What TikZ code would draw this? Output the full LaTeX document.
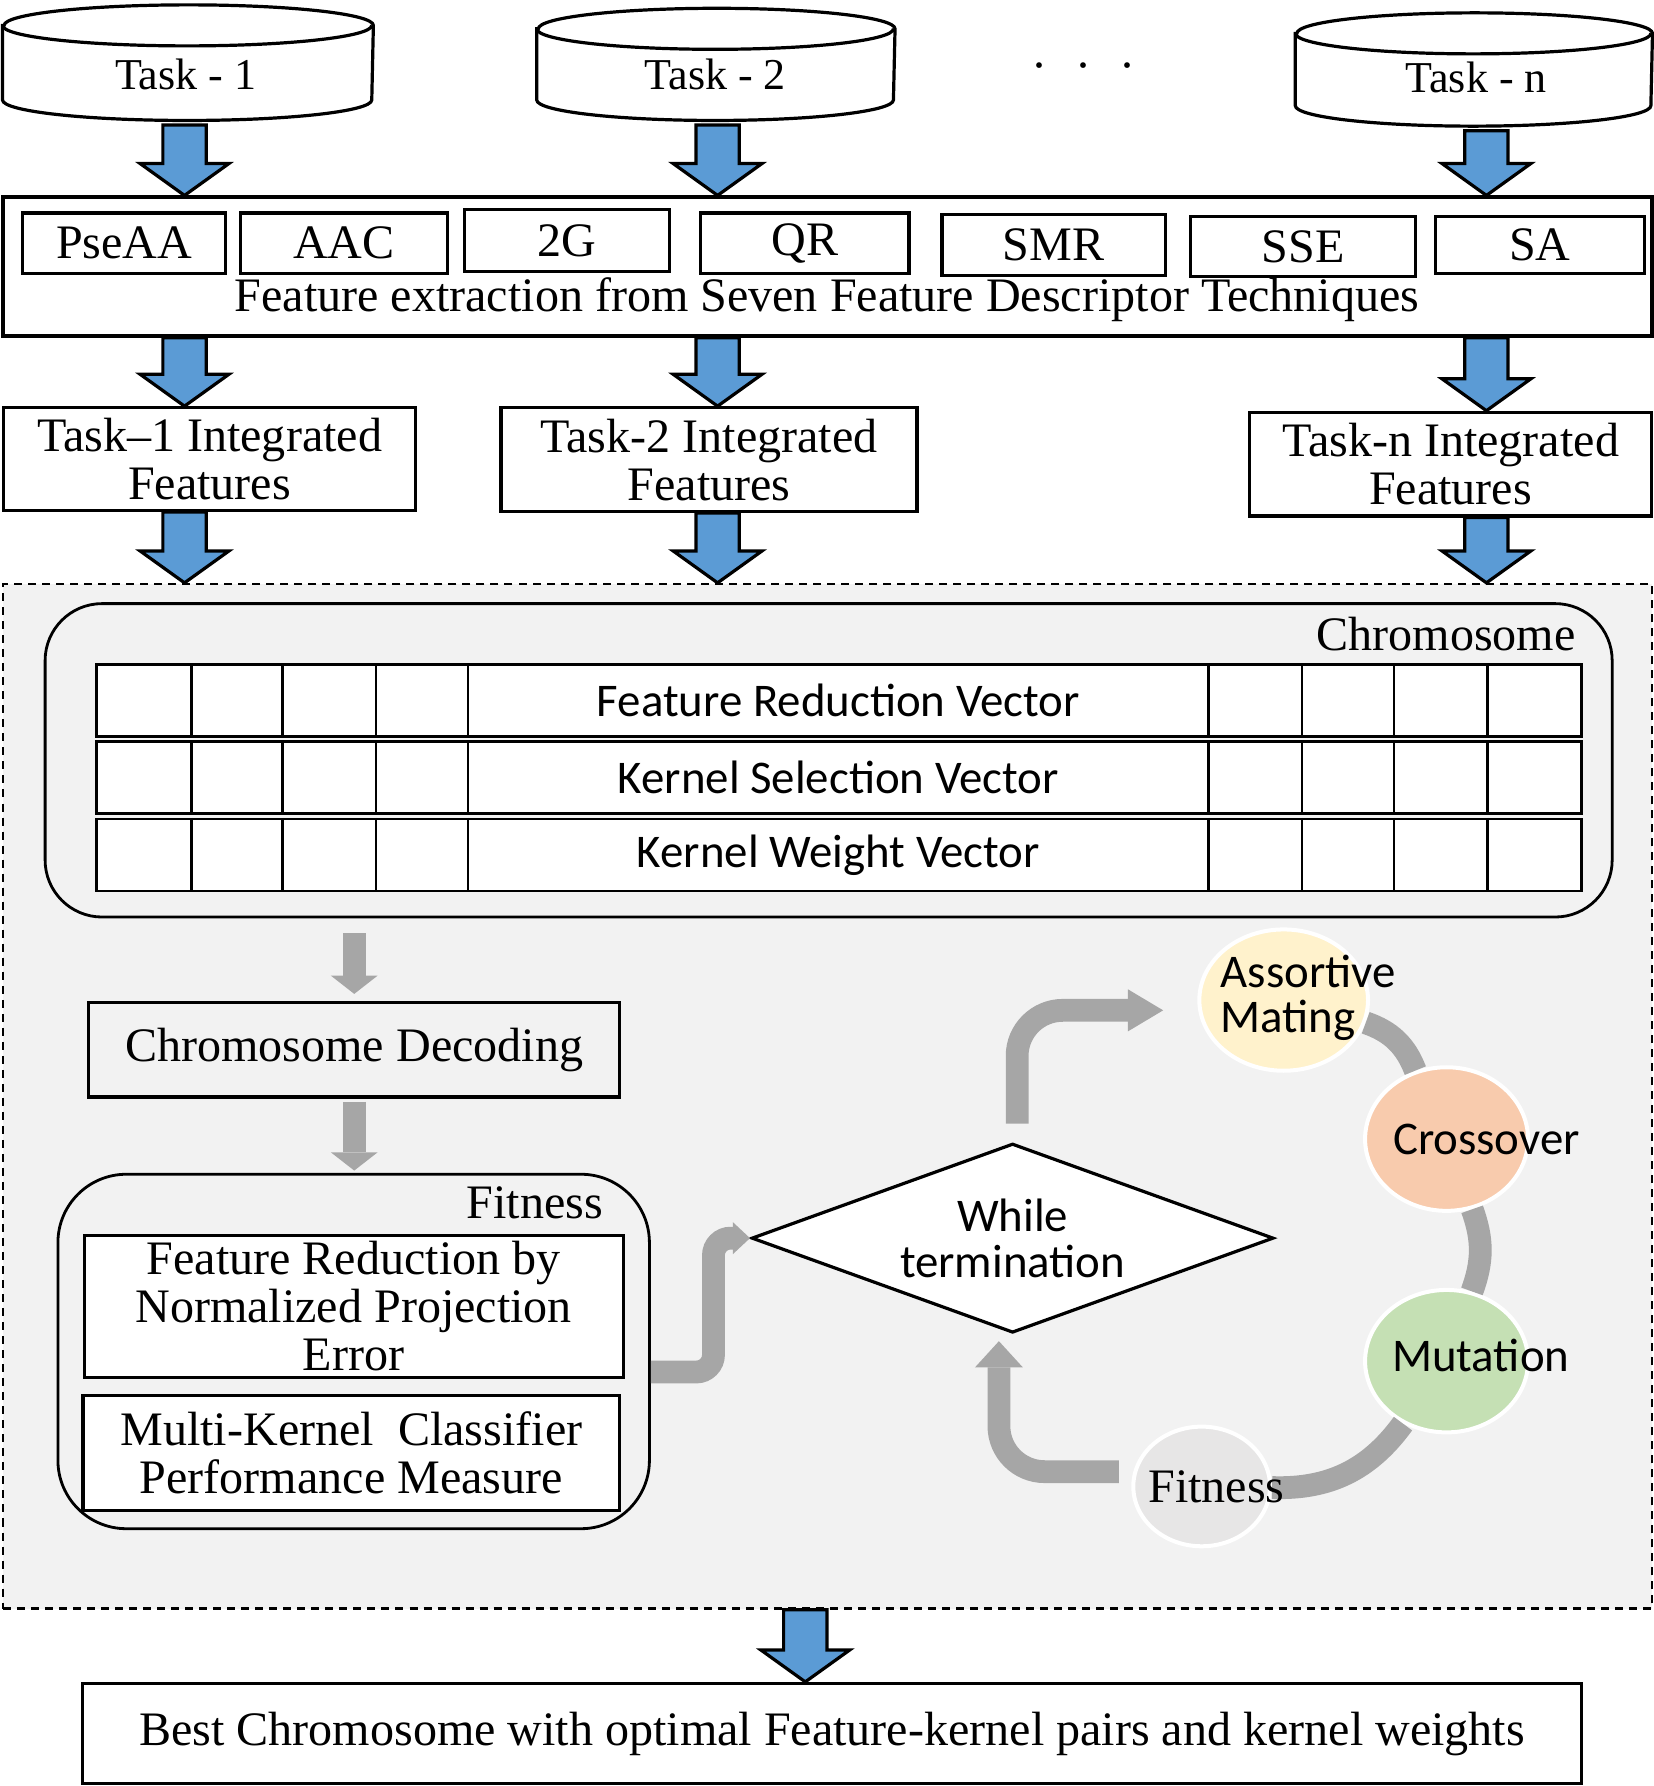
\documentclass[tikz,border=0pt]{standalone}
\usepackage{fontspec}
\setmainfont{Liberation Serif}
\newfontfamily\calibri{Carlito}
\usetikzlibrary{shapes.geometric,arrows.meta,calc}

\definecolor{arrowblue}{HTML}{5B9BD5}
\definecolor{flowgray}{HTML}{A6A6A6}
\definecolor{panelgray}{HTML}{F2F2F2}
\definecolor{mateyellow}{HTML}{FFF2CC}
\definecolor{crossorange}{HTML}{F8CBAD}
\definecolor{mutgreen}{HTML}{C5E0B4}
\definecolor{fitgray}{HTML}{E7E6E6}

% data drum round a named node: #1 node, #2 half width
\newcommand{\drum}[2]{%
  \draw[line width=0.8pt, fill=white] ($(#1.north west)+(0,18)$) -- ($(#1.south west)+(0,-18)$)
    arc[start angle=180, end angle=360, x radius=#2, y radius=0.18cm]
    -- ($(#1.north east)+(0,18)$)
    arc[start angle=0, end angle=180, x radius=#2, y radius=0.18cm] -- cycle;
  \draw[line width=0.8pt] ($(#1.north west)+(0,18)$)
    arc[start angle=180, end angle=360, x radius=#2, y radius=0.18cm];
}

\tikzset{
  txt/.style={inner sep=0pt, align=center, font=\fontsize{12}{12}\selectfont},
  sans/.style={inner sep=0pt, align=center, font=\calibri\fontsize{11.7}{11.4}\selectfont},
  box/.style={txt, draw, line width=0.8pt, fill=white},
  roundbox/.style={draw, line width=0.7pt, fill=panelgray},
  drumbox/.style={inner sep=0pt, minimum height=1cm},
  cellrow/.style={draw, line width=0.6pt, fill=white, minimum width=13.03cm, minimum height=0.63cm},
  gridline/.style={line width=0.6pt},
  decision/.style={sans, diamond, aspect=2.76, draw, fill=white, line width=0.8pt, minimum width=4.58cm, minimum height=1.66cm},
  stage/.style={ellipse, draw=white, line width=1pt, inner sep=0pt},
  cycleband/.style={draw=flowgray, line width=0.2cm},
  flowarrow/.style={draw=flowgray, line width=0.2cm, -{Triangle[width=0.41cm, length=0.16cm, line width=0pt]}},
  smallhead/.style={-{Triangle[width=0.28cm, length=0.15cm, line width=0pt]}},
  bluearrow/.style={draw, line width=0.8pt, fill=arrowblue,
    to path={let \p1=(\tikztostart), \p2=(\tikztotarget) in
      (\x1-0.19cm,\y1) -- (\x1+0.19cm,\y1) -- (\x1+0.19cm,\y2+0.28cm) -- (\x1+0.39cm,\y2+0.28cm)
      -- (\x1,\y2) -- (\x1-0.39cm,\y2+0.28cm) -- (\x1-0.19cm,\y2+0.28cm) -- cycle}}
}

\begin{document}
\begin{tikzpicture}[x=0.01cm, y=-0.01cm]
\useasboundingbox (0,0) rectangle (1452,1568);

\coordinate (col1) at (162,0);
\coordinate (col2) at (630,0);
\coordinate (coln) at (1305,0);
\coordinate (colb) at (707,0);

% task data sets
\node[drumbox, minimum width=3.24cm] (task1) at (165,55) {};
\node[drumbox, minimum width=3.13cm, minimum height=0.97cm] (task2) at (628.5,56.5) {};
\node[drumbox, minimum width=3.12cm, minimum height=0.98cm] (taskn) at (1294,61) {};
\drum{task1}{1.62cm}
\drum{task2}{1.565cm}
\drum{taskn}{1.56cm}
\node[txt, font=\fontsize{11}{11}\selectfont] (task1-t) at (163,65) {Task - 1};
\node[txt, font=\fontsize{11}{11}\selectfont] (task2-t) at (628,65) {Task - 2};
\node[txt, font=\fontsize{11}{11}\selectfont] (taskn-t) at (1296,68) {Task - n};
\node[txt] (dots) at (951,63) {·\hspace{7pt}·\hspace{7pt}·};

% feature descriptors
\node[box, minimum width=14.47cm, minimum height=1.22cm] (feat) at (726.5,234) {};
\foreach \x/\y/\w/\h/\name/\lab in {109/213.5/1.78cm/0.53cm/pse/PseAA, 302/213.5/1.82cm/0.53cm/aac/AAC,
    498/211/1.8cm/0.54cm/tg/2G, 706.5/213.5/1.83cm/0.53cm/qr/QR, 925/215/1.96cm/0.54cm/smr/SMR,
    1144/216.5/1.98cm/0.53cm/sse/SSE, 1352/215/1.84cm/0.5cm/sa/SA}
  \node[box, minimum width=\w, minimum height=\h] (\name) at (\x,\y) {\lab};
\node[txt] (feattxt) at (726,263) {Feature extraction from Seven Feature Descriptor Techniques};

% integrated features
\node[box, minimum width=3.62cm, minimum height=0.9cm] (int1) at (184,403) {Task–1\ Integrated\\Features};
\node[box, minimum width=3.65cm, minimum height=0.91cm] (int2) at (622.5,403.5) {Task-2\ Integrated\\Features};
\node[box, minimum width=3.53cm, minimum height=0.91cm] (intn) at (1273.5,407.5) {Task-n Integrated\\Features};

% genetic search
\node[draw, dash pattern=on 2pt off 1.5pt, line width=0.6pt, fill=panelgray,
  minimum width=14.47cm, minimum height=8.99cm] (panel) at (726.5,962.5) {};

\node[roundbox, rounded corners=0.5cm, minimum width=13.75cm, minimum height=2.75cm] (chrom) at (727.5,667.5) {};
\node[txt, anchor=east] (chromlbl) at (1384,557) {Chromosome};
\foreach \name/\yc/\lab in {frv/615/Feature Reduction Vector, ksv/682.5/Kernel Selection Vector,
    kwv/750.5/Kernel Weight Vector} {
  \node[cellrow] (\name) at (736.5,\yc) {};
  \foreach \x in {168,248,330,411,1061,1143,1224,1306}
    \draw[gridline] (\x,0 |- \name.north) -- (\x,0 |- \name.south);
  \node[sans] (\name-t) at (736,\yc) {\lab};
}

\node[box, fill=panelgray, minimum width=4.66cm, minimum height=0.83cm] (dec) at (311,921.5) {Chromosome Decoding};

\node[roundbox, rounded corners=0.6cm, minimum width=5.19cm, minimum height=3.11cm] (fitbox) at (310.5,1186.5) {};
\node[txt, anchor=east] (fitlbl) at (530,1056) {Fitness};
\node[box, minimum width=4.73cm, minimum height=1.24cm] (fb1) at (310.5,1147) {Feature Reduction by\\Normalized Projection\\Error};
\node[box, minimum width=4.71cm, minimum height=1.01cm] (fb2) at (308.5,1275.5) {Multi-Kernel\ \ Classifier\\Performance Measure};

\node[decision] (wt) at (889,1087) {While\\termination};

\node[stage, fill=mateyellow, minimum width=1.48cm, minimum height=1.24cm] (am) at (1127,878) {};
\node[stage, fill=crossorange, minimum width=1.43cm, minimum height=1.26cm] (co) at (1270,1000) {};
\node[stage, fill=mutgreen, minimum width=1.43cm, minimum height=1.25cm] (mu) at (1270,1195) {};
\node[stage, fill=fitgray, minimum width=1.2cm, minimum height=1.05cm] (fitc) at (1055,1305) {};

\draw[cycleband] (am) to[bend left=25] (co);
\draw[cycleband] (co) to[bend left=20] (mu);
\draw[cycleband] (mu) to[bend left=28] (fitc);

\node[sans, align=left, anchor=west] (am-t) at (1071,876) {Assortive\\Mating};
\node[sans] (co-t) at (1305,1000) {Crossover};
\node[sans] (mu-t) at (1300,1190) {Mutation};
\node[txt] (fitc-t) at (1068,1305) {Fitness};

% gray flow
\draw[flowarrow] ($(chrom.south -| dec.north)+(0,13)$) -- ($(dec.north)+(0,-6)$);
\draw[flowarrow] ($(dec.south)+(0,3)$) -- ($(fitbox.north -| dec.south)+(0,-2)$);
\draw[flowarrow, smallhead, rounded corners=0.15cm] ($(fitbox.east)+(0,18)$) -- ++(55,0) |- (wt.west);
\draw[flowarrow, -{Triangle[width=0.37cm, length=0.31cm, line width=0pt]}, rounded corners=0.4cm]
  ($(wt.north)+(4,-16)$) |- ($(am.west)+(-30,9)$);
\draw[flowarrow, -{Triangle[width=0.42cm, length=0.23cm, line width=0pt]}, rounded corners=0.4cm]
  ($(fitc.west)+(-11,-13)$) -| ($(wt.south)+(-12,6)$);

% result
\node[box, minimum width=13.15cm, minimum height=0.88cm] (best) at (730.5,1522)
  {Best Chromosome with optimal Feature-kernel pairs and kernel weights};

% blue block arrows
\foreach \col/\top/\mid in {col1/task1/int1, col2/task2/int2, coln/taskn/intn} {
  \draw[bluearrow] ($(\top.south -| \col)+(0,4)$) to (feat.north -| \col);
  \draw[bluearrow] (feat.south -| \col) to (\mid.north -| \col);
  \draw[bluearrow] (\mid.south -| \col) to (panel.north -| \col);
}
\draw[bluearrow] (panel.south -| colb) to (best.north -| colb);
\end{tikzpicture}
\end{document}
